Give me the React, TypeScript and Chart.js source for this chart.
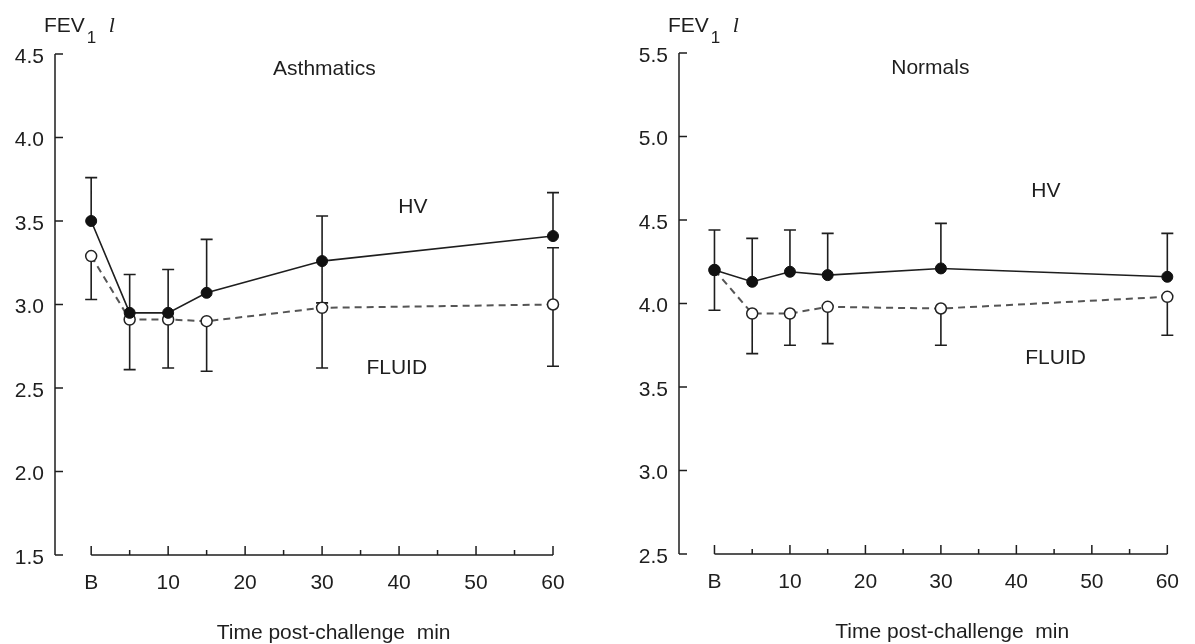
import React, { useEffect, useRef } from "react";
import { Chart, registerables } from "chart.js";

Chart.register(...registerables);

// ---------- data ----------
const timeMin = [0, 5, 10, 15, 30, 60];
const xTickValues = [0, 10, 20, 30, 40, 50, 60];
const xTickLabels = ["B", "10", "20", "30", "40", "50", "60"];
const xMinorStep = 5;
const xAxisTitle = "Time post-challenge  min";

// Asthmatics panel
const asthYTicks = [1.5, 2.0, 2.5, 3.0, 3.5, 4.0, 4.5];
const asthYTickLabels = ["1.5", "2.0", "2.5", "3.0", "3.5", "4.0", "4.5"];
const asthHV = [3.5, 2.95, 2.95, 3.07, 3.26, 3.41];
const asthHVUp = [0.26, 0.23, 0.26, 0.32, 0.27, 0.26];
const asthHVDown = [0, 0, 0, 0, 0.25, 0];
const asthFluid = [3.29, 2.91, 2.91, 2.9, 2.98, 3.0];
const asthFluidUp = [0, 0, 0, 0, 0, 0.34];
const asthFluidDown = [0.26, 0.3, 0.29, 0.3, 0.36, 0.37];

// Normals panel
const normYTicks = [2.5, 3.0, 3.5, 4.0, 4.5, 5.0, 5.5];
const normYTickLabels = ["2.5", "3.0", "3.5", "4.0", "4.5", "5.0", "5.5"];
const normHV = [4.2, 4.13, 4.19, 4.17, 4.21, 4.16];
const normHVUp = [0.24, 0.26, 0.25, 0.25, 0.27, 0.26];
const normHVDown = [0, 0, 0, 0, 0, 0];
const normFluid = [4.2, 3.94, 3.94, 3.98, 3.97, 4.04];
const normFluidUp = [0, 0, 0, 0, 0, 0];
const normFluidDown = [0.24, 0.24, 0.19, 0.22, 0.22, 0.23];

const FONT = "'Liberation Sans', Arial, Helvetica, sans-serif";
const INK = "#1e1e1e";
const TXT = 21;

type PanelCfg = {
  name: string;
  yTicks: number[];
  yTickLabels: string[];
  hv: number[];
  hvUp: number[];
  hvDown: number[];
  fluid: number[];
  fluidUp: number[];
  fluidDown: number[];
  namePos: [number, number];
  hvPos: [number, number];
  fluidPos: [number, number];
  left: number;
  width: number;
  yAxisWidth: number;
  padRight: number;
  padTop: number;
  xAxisHeight: number;
};

const panels: PanelCfg[] = [
  {
    name: "Asthmatics",
    yTicks: asthYTicks,
    yTickLabels: asthYTickLabels,
    hv: asthHV,
    hvUp: asthHVUp,
    hvDown: asthHVDown,
    fluid: asthFluid,
    fluidUp: asthFluidUp,
    fluidDown: asthFluidDown,
    namePos: [30.3, 4.41],
    hvPos: [41.8, 3.58],
    fluidPos: [39.7, 2.62],
    left: 0,
    width: 600,
    yAxisWidth: 55,
    padRight: 47,
    padTop: 54,
    xAxisHeight: 89,
  },
  {
    name: "Normals",
    yTicks: normYTicks,
    yTickLabels: normYTickLabels,
    hv: normHV,
    hvUp: normHVUp,
    hvDown: normHVDown,
    fluid: normFluid,
    fluidUp: normFluidUp,
    fluidDown: normFluidDown,
    namePos: [28.6, 5.41],
    hvPos: [43.9, 4.67],
    fluidPos: [45.2, 3.67],
    left: 600,
    width: 595,
    yAxisWidth: 79,
    padRight: 13,
    padTop: 53,
    xAxisHeight: 90,
  },
];

const decorPlugin = {
  id: "panelDecor",
  beforeDatasetsDraw(chart: any, _args: any, opts: any) {
    const { ctx } = chart;
    const xs = chart.scales.x;
    const ys = chart.scales.y;
    const cfg: PanelCfg = opts.cfg;
    ctx.save();
    ctx.strokeStyle = INK;
    ctx.lineWidth = 1.5;
    ctx.lineCap = "butt";
    const ax = xs.getPixelForValue(xs.min);
    const yTop = ys.getPixelForValue(ys.max);
    const yBot = ys.getPixelForValue(ys.min);
    ctx.beginPath();
    ctx.moveTo(ax, yTop);
    ctx.lineTo(ax, yBot);
    cfg.yTicks.forEach((v) => {
      const py = ys.getPixelForValue(v);
      ctx.moveTo(ax, py);
      ctx.lineTo(ax + 8, py);
    });
    const x0 = xs.getPixelForValue(xTickValues[0]);
    const x1 = xs.getPixelForValue(xTickValues[xTickValues.length - 1]);
    ctx.moveTo(x0, yBot);
    ctx.lineTo(x1, yBot);
    for (let m = xTickValues[0]; m <= xTickValues[xTickValues.length - 1]; m += xMinorStep) {
      const px = xs.getPixelForValue(m);
      const len = xTickValues.includes(m) ? 9 : 5;
      ctx.moveTo(px, yBot);
      ctx.lineTo(px, yBot - len);
    }
    ctx.stroke();

    // error bars
    const drawBars = (vals: number[], up: number[], down: number[]) => {
      ctx.beginPath();
      vals.forEach((v, i) => {
        const px = xs.getPixelForValue(timeMin[i]);
        const py = ys.getPixelForValue(v);
        if (up[i] > 0) {
          const pt = ys.getPixelForValue(v + up[i]);
          ctx.moveTo(px, py);
          ctx.lineTo(px, pt);
          ctx.moveTo(px - 6, pt);
          ctx.lineTo(px + 6, pt);
        }
        if (down[i] > 0) {
          const pb = ys.getPixelForValue(v - down[i]);
          ctx.moveTo(px, py);
          ctx.lineTo(px, pb);
          ctx.moveTo(px - 6, pb);
          ctx.lineTo(px + 6, pb);
        }
      });
      ctx.stroke();
    };
    ctx.lineWidth = 1.6;
    drawBars(cfg.hv, cfg.hvUp, cfg.hvDown);
    drawBars(cfg.fluid, cfg.fluidUp, cfg.fluidDown);
    ctx.restore();
  },
  afterDraw(chart: any, _args: any, opts: any) {
    const { ctx } = chart;
    const xs = chart.scales.x;
    const ys = chart.scales.y;
    const cfg: PanelCfg = opts.cfg;
    ctx.save();
    ctx.fillStyle = INK;
    ctx.textBaseline = "middle";
    ctx.textAlign = "center";
    ctx.font = `${TXT}px ${FONT}`;
    const put = (t: string, p: [number, number]) =>
      ctx.fillText(t, xs.getPixelForValue(p[0]), ys.getPixelForValue(p[1]));
    put(cfg.name, cfg.namePos);
    put("HV", cfg.hvPos);
    put("FLUID", cfg.fluidPos);

    // axis title
    const yBot = ys.getPixelForValue(ys.min);
    ctx.fillText(xAxisTitle, xs.getPixelForValue(31.5), yBot + 78);

    // y-axis unit label  FEV1 l
    const ax = xs.getPixelForValue(xs.min);
    ctx.textAlign = "left";
    ctx.textBaseline = "alphabetic";
    ctx.font = `${TXT}px ${FONT}`;
    const fx = ax - 11;
    ctx.fillText("FEV", fx, 32);
    const w = ctx.measureText("FEV").width;
    ctx.font = `17px ${FONT}`;
    ctx.fillText("1", fx + w + 2, 43);
    ctx.font = `italic 22px 'Liberation Serif', 'Times New Roman', serif`;
    ctx.fillText("l", fx + w + 24, 32);
    ctx.restore();
  },
};

function Panel({ cfg }: { cfg: PanelCfg }) {
  const ref = useRef<HTMLCanvasElement | null>(null);
  useEffect(() => {
    if (!ref.current) return;
    const hvPts = timeMin.map((t, i) => ({ x: t, y: cfg.hv[i] }));
    const flPts = timeMin.map((t, i) => ({ x: t, y: cfg.fluid[i] }));
    const chart = new Chart(ref.current, {
      type: "line",
      data: {
        datasets: [
          {
            label: "HV",
            data: hvPts,
            borderColor: INK,
            borderWidth: 1.6,
            pointRadius: 5.5,
            pointBackgroundColor: "#111",
            pointBorderColor: "#111",
            pointBorderWidth: 1,
            tension: 0,
            clip: false as any,
          },
          {
            label: "FLUID",
            data: flPts,
            borderColor: "#555",
            borderWidth: 2,
            borderDash: [7, 5],
            pointRadius: 5.5,
            pointBackgroundColor: "#fff",
            pointBorderColor: "#222",
            pointBorderWidth: 1.5,
            tension: 0,
            clip: false as any,
          },
        ],
      },
      options: {
        animation: false,
        responsive: false,
        devicePixelRatio: 1,
        layout: { padding: { left: 0, right: cfg.padRight, top: cfg.padTop, bottom: 0 } },
        plugins: {
          legend: { display: false },
          tooltip: { enabled: false },
          panelDecor: { cfg },
        } as any,
        scales: {
          x: {
            type: "linear",
            min: -4.7,
            max: 60,
            grid: { display: false, drawTicks: false },
            border: { display: false },
            afterBuildTicks: (s: any) => {
              s.ticks = xTickValues.map((v) => ({ value: v }));
            },
            afterFit: (s: any) => {
              s.height = cfg.xAxisHeight;
            },
            ticks: {
              padding: 16,
              color: INK,
              font: { family: FONT, size: TXT },
              maxRotation: 0,
              autoSkip: false,
              callback: (v: any) => xTickLabels[xTickValues.indexOf(Number(v))] ?? "",
            },
          },
          y: {
            type: "linear",
            min: cfg.yTicks[0],
            max: cfg.yTicks[cfg.yTicks.length - 1],
            grid: { display: false, drawTicks: false },
            border: { display: false },
            afterBuildTicks: (s: any) => {
              s.ticks = cfg.yTicks.map((v) => ({ value: v }));
            },
            afterFit: (s: any) => {
              s.width = cfg.yAxisWidth;
            },
            ticks: {
              padding: 11,
              labelOffset: 3,
              color: INK,
              font: { family: FONT, size: TXT },
              callback: (v: any) => cfg.yTickLabels[cfg.yTicks.indexOf(Number(v))] ?? "",
            },
          },
        },
      },
      plugins: [decorPlugin],
    });
    return () => chart.destroy();
  }, [cfg]);
  return (
    <canvas
      ref={ref}
      width={cfg.width}
      height={644}
      style={{ position: "absolute", left: cfg.left, top: 0, width: cfg.width, height: 644 }}
    />
  );
}

export default function App() {
  return (
    <div
      style={{
        position: "fixed",
        left: 0,
        top: 0,
        width: 1195,
        height: 644,
        background: "#fff",
        overflow: "hidden",
      }}
    >
      {panels.map((p) => (
        <Panel key={p.name} cfg={p} />
      ))}
    </div>
  );
}
